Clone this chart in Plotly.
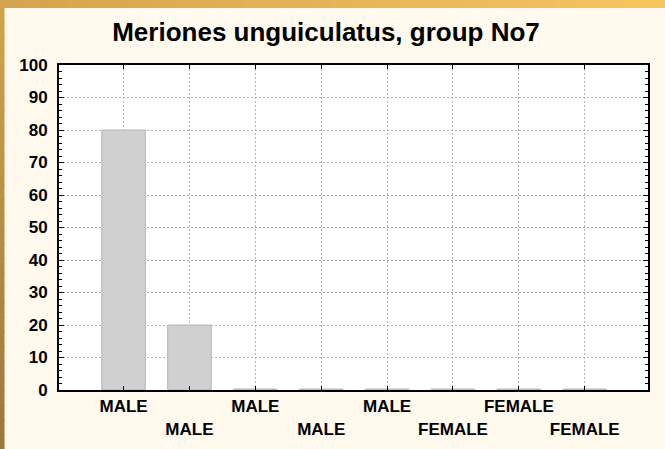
import plotly.graph_objects as go

# data
sexes = ["MALE", "MALE", "MALE", "MALE", "MALE", "FEMALE", "FEMALE", "FEMALE"]
percent = [80, 20, 0.3, 0.3, 0.3, 0.3, 0.3, 0.3]
y_ticks = [0, 10, 20, 30, 40, 50, 60, 70, 80, 90, 100]

W, H = 665, 449
ML, MR, MT, MB = 59, 17, 65, 59
PW, PH = W - ML - MR, H - MT - MB

cream = "#FFF9EE"
font = "Liberation Sans, Arial, sans-serif"


def px_x(px):
    return (px - ML) / PW


def px_y(py):
    return (H - MB - py) / PH


def mix(c1, c2, t):
    return "rgb(%d,%d,%d)" % tuple(round(a + (b - a) * t) for a, b in zip(c1, c2))


# golden frame on the top and left edge, drawn as small colour steps
frame = []
steps = 30
band = 8
for i in range(steps):
    t = i / (steps - 1)
    frame.append(dict(type="rect", xref="paper", yref="paper", layer="above",
                      x0=px_x(W * i / steps), x1=px_x(W * (i + 1) / steps + 1),
                      y0=px_y(band), y1=px_y(-2), line_width=0,
                      fillcolor=mix((212, 164, 78), (248, 196, 96), t)))
    frame.append(dict(type="rect", xref="paper", yref="paper", layer="above",
                      x0=px_x(-2), x1=px_x(4.5),
                      y0=px_y(band + (H - band) * (i + 1) / steps + 1), y1=px_y(band + (H - band) * i / steps),
                      line_width=0,
                      fillcolor=mix((208, 162, 76), (156, 120, 58), t)))

# odd labels go on a second row
tick_text = [s if i % 2 == 0 else "<br>" + s for i, s in enumerate(sexes)]

fig = go.Figure(go.Bar(
    x=list(range(len(sexes))),
    y=percent,
    width=0.66,
    marker=dict(color="#D0D0D0", line=dict(color="#B4B4B4", width=1)),
))

fig.update_layout(
    width=W, height=H,
    margin=dict(l=ML, r=MR, t=MT, b=MB),
    paper_bgcolor=cream,
    plot_bgcolor="white",
    showlegend=False,
    font=dict(family=font, color="black"),
    title=dict(text="<b>Meriones unguiculatus, group No7</b>",
               x=326 / W, xanchor="center", xref="container",
               y=1 - 32 / H, yanchor="middle", yref="container",
               font=dict(size=26, family=font, color="black")),
    shapes=frame,
)

fig.update_xaxes(
    range=[-0.98, 7.96],
    tickvals=list(range(len(sexes))),
    ticktext=tick_text,
    tickangle=0,
    tickfont=dict(size=17, family=font, color="black", weight="bold"),
    ticks="inside", ticklen=4, tickcolor="black",
    ticklabelstandoff=0,
    automargin=False,
    showline=True, linecolor="black", linewidth=2, mirror="ticks",
    showgrid=True, gridcolor="#B4B4B4", griddash="2px,2px", gridwidth=1,
    zeroline=False,
)

fig.update_yaxes(
    range=[0, 100],
    tickvals=y_ticks,
    tickfont=dict(size=17, family=font, color="black", weight="bold"),
    ticks="inside", ticklen=5, tickcolor="black",
    minor=dict(dtick=2, ticks="inside", ticklen=3, tickcolor="black", showgrid=False),
    showline=True, linecolor="black", linewidth=2, mirror="ticks",
    showgrid=True, gridcolor="#B4B4B4", griddash="2px,2px", gridwidth=1,
    zeroline=False,
    ticklabelstandoff=6,
    automargin=False,
)

fig.write_html("out.html", config={"displayModeBar": False},
               post_script="document.body.style.margin='0';")
